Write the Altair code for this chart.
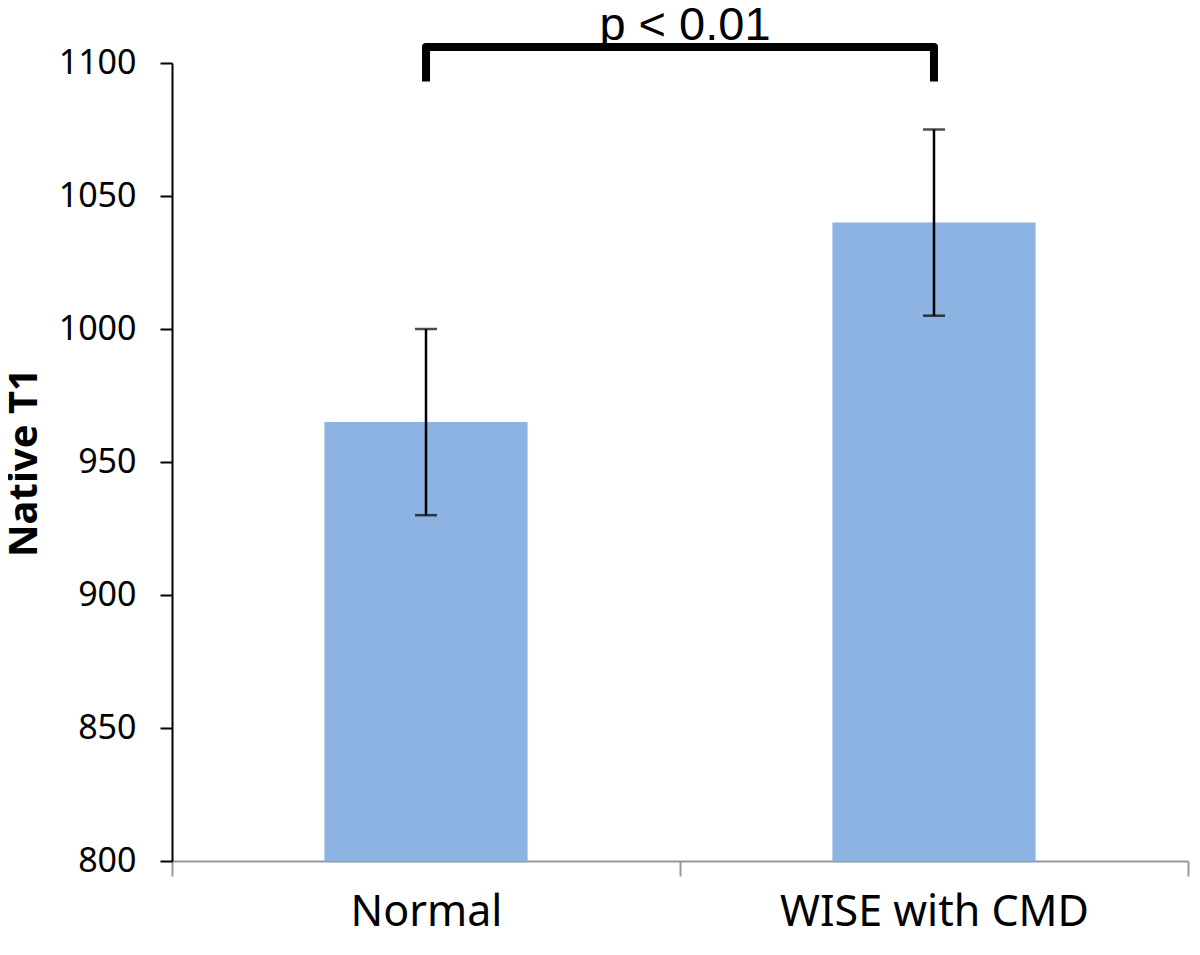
import altair as alt
import pandas as pd

categories = ["Normal", "WISE with CMD"]
means = [965, 1040]
errors = [35, 35]

# significance bracket (data units)
bracket_top = 1106
bracket_leg = 1093
p_label = "p < 0.01"
p_label_y = 1108.5

df = pd.DataFrame({
    "group": categories,
    "mean": means,
    "lo": [m - e for m, e in zip(means, errors)],
    "hi": [m + e for m, e in zip(means, errors)],
})

br = pd.DataFrame({
    "group": [categories[0], categories[0], categories[1], categories[1]],
    "v": [bracket_leg, bracket_top, bracket_top, bracket_leg],
    "o": [0, 1, 2, 3],
})
txt = pd.DataFrame({"group": [categories[0]], "v": [p_label_y], "t": [p_label]})

xscale = alt.Scale(domain=categories, paddingInner=0, paddingOuter=0)
yscale = alt.Scale(domain=[800, 1100], nice=False, zero=False)

x_enc = alt.X("group:N", scale=xscale, sort=categories, axis=alt.Axis(
    title=None, labelAngle=0, labelFont="Noto Sans", labelFontSize=43,
    labelColor="black", labelPadding=15, labelLimit=0, domainColor="#999999",
    domainWidth=2, tickColor="#999999", tickWidth=2, tickSize=15,
    tickBand="extent", grid=False))
y_enc = alt.Y("mean:Q", scale=yscale, axis=alt.Axis(
    title="Native T1", values=[800, 850, 900, 950, 1000, 1050, 1100],
    format="d",
    labelFont="Noto Sans", labelFontSize=34, labelColor="black",
    labelPadding=24, domainColor="black", domainWidth=2, tickColor="black",
    tickWidth=2, tickSize=12, grid=False, titleFont="Noto Sans",
    titleFontSize=40, titleFontWeight="bold", titleColor="black",
    titleX=-148, titleY=399, titleBaseline="middle", titleAngle=-90))

bars = alt.Chart(df).mark_bar(color="#8DB3E2", clip=True,
                              width=alt.RelativeBandSize(0.4)).encode(
    x=x_enc, y=y_enc, y2=alt.datum(800))

err = alt.Chart(df).mark_rule(color="black", strokeWidth=2.5).encode(
    x=alt.X("group:N", scale=xscale, sort=categories),
    y=alt.Y("lo:Q", scale=yscale), y2="hi:Q")
cap_lo = alt.Chart(df).mark_tick(color="black", size=22, thickness=2.5).encode(
    x=alt.X("group:N", scale=xscale, sort=categories),
    y=alt.Y("lo:Q", scale=yscale))
cap_hi = alt.Chart(df).mark_tick(color="black", size=22, thickness=2.5).encode(
    x=alt.X("group:N", scale=xscale, sort=categories),
    y=alt.Y("hi:Q", scale=yscale))

bracket = alt.Chart(br).mark_line(color="black", strokeWidth=8, clip=False,
                                  strokeJoin="round").encode(
    x=alt.X("group:N", scale=xscale, sort=categories),
    y=alt.Y("v:Q", scale=yscale), order="o:Q")

ptext = alt.Chart(txt).mark_text(font="Liberation Sans", fontSize=47,
                                 color="black", baseline="alphabetic",
                                 align="center", clip=False).encode(
    x=alt.value(513), y=alt.Y("v:Q", scale=yscale), text="t:N")

chart = alt.layer(bars, err, cap_lo, cap_hi, bracket, ptext).properties(
    width=1016, height=798,
    autosize=alt.AutoSizeParams(type="none"),
    padding={"left": 164, "top": 55, "right": 4, "bottom": 86},
    background="white",
).configure_view(strokeWidth=0, stroke=None)

chart.save("out.html", embed_options={"renderer": "svg", "actions": False})
